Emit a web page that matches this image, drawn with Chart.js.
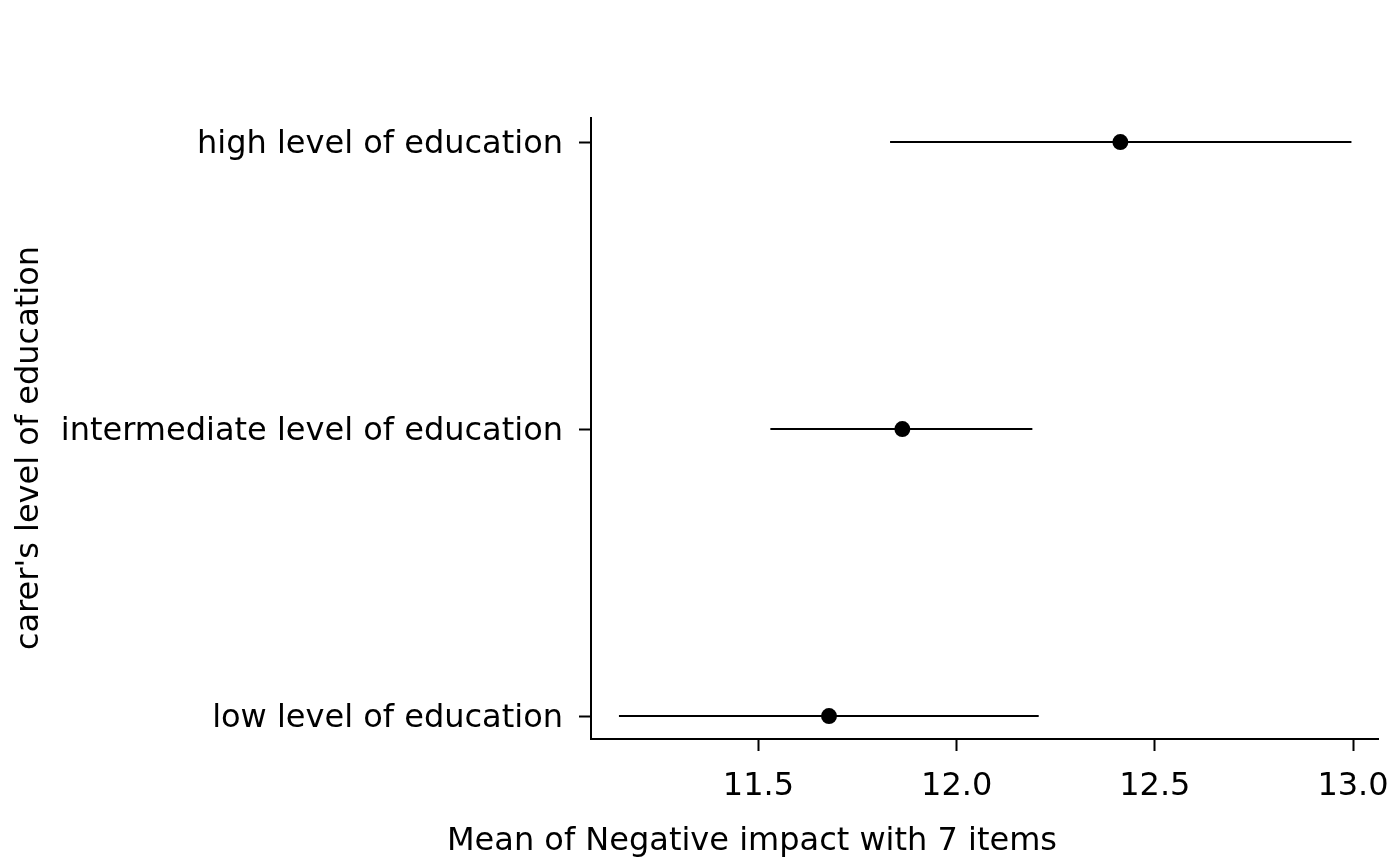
<!DOCTYPE html>
<html>
<head>
<meta charset="utf-8">
<script src="https://cdn.jsdelivr.net/npm/chart.js@4"></script>
<style>
  html, body { margin: 0; padding: 0; background: #fff; }
</style>
</head>
<body>
<canvas id="chart" width="1400" height="866"></canvas>
<script>
// categories, bottom to top (y = 1, 2, 3)
const categories = [
    "low level of education",
    "intermediate level of education",
    "high level of education",
];
const means = [11.678, 11.863, 12.413];
const lower = [11.148, 11.530, 11.832];
const upper = [12.207, 12.191, 12.996];
const xTicks = [11.5, 12.0, 12.5, 13.0];

const xTitle = "Mean of Negative impact with 7 items";
const yTitle = "carer's level of education";

const FONT = "'DejaVu Sans', sans-serif";
const FONT_SIZE = 32;

// one dataset for the dots, one line per category for the interval
const datasets = [
    {
        type: "scatter",
        data: means.map((m, i) => ({ x: m, y: i + 1 })),
        pointRadius: 8,
        pointBackgroundColor: "#000",
        pointBorderWidth: 0,
    },
];
categories.forEach((c, i) => {
    datasets.push({
        type: "line",
        data: [
            { x: lower[i], y: i + 1 },
            { x: upper[i], y: i + 1 },
        ],
        borderColor: "#000",
        borderWidth: 2,
        pointRadius: 0,
        fill: false,
    });
});

// axis titles sit off-centre in the original, so draw them here
const axisTitles = {
    id: "axisTitles",
    afterDraw: (chart) => {
        const { ctx } = chart;
        ctx.save();
        ctx.fillStyle = "#000";
        ctx.font = FONT_SIZE + "px " + FONT;
        ctx.textAlign = "center";
        ctx.textBaseline = "middle";
        ctx.fillText(xTitle, 752, 842);
        ctx.translate(30, 448);
        ctx.rotate(-Math.PI / 2);
        ctx.fillText(yTitle, 0, 0);
        ctx.restore();
    },
};

new Chart(document.getElementById("chart"), {
    type: "scatter",
    data: { datasets },
    options: {
        responsive: false,
        animation: false,
        devicePixelRatio: 1,
        layout: { padding: { top: 118, right: 22, left: 0, bottom: 0 } },
        plugins: { legend: { display: false }, tooltip: { enabled: false } },
        scales: {
            x: {
                type: "linear",
                min: 11.0775,
                max: 13.063,
                afterBuildTicks: (axis) => {
                    axis.ticks = xTicks.map((v) => ({ value: v }));
                },
                afterFit: (scale) => {
                    scale.height = 127;
                    // the "13.0" label may spill past the axis end
                    scale.paddingLeft = 0;
                    scale.paddingRight = 0;
                },
                border: { display: true, color: "#000", width: 2 },
                grid: {
                    drawOnChartArea: false,
                    drawTicks: true,
                    tickLength: 12,
                    tickColor: "#000",
                    tickWidth: 2,
                },
                ticks: {
                    color: "#000",
                    font: { family: FONT, size: FONT_SIZE },
                    padding: 16,
                    maxRotation: 0,
                    callback: (v) => v.toFixed(1),
                },
            },
            y: {
                type: "linear",
                min: 0.92,
                max: 3.084,
                afterBuildTicks: (axis) => {
                    axis.ticks = categories.map((c, i) => ({ value: i + 1 }));
                },
                afterFit: (scale) => {
                    scale.width = 591;
                    scale.paddingTop = 0;
                    scale.paddingBottom = 0;
                },
                border: { display: true, color: "#000", width: 2 },
                grid: {
                    drawOnChartArea: false,
                    drawTicks: true,
                    tickLength: 12,
                    tickColor: "#000",
                    tickWidth: 2,
                },
                ticks: {
                    color: "#000",
                    font: { family: FONT, size: FONT_SIZE },
                    padding: 16,
                    labelOffset: 3,
                    callback: (v) => categories[v - 1],
                },
            },
        },
    },
    plugins: [axisTitles],
});
</script>
</body>
</html>
